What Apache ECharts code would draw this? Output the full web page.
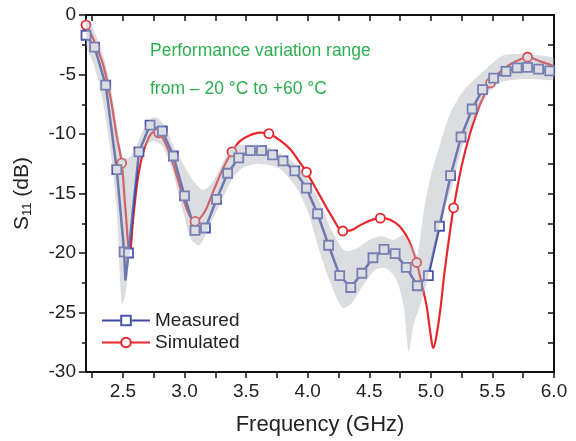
<!DOCTYPE html>
<html>
<head>
<meta charset="utf-8">
<script src="https://cdn.jsdelivr.net/npm/echarts@6/dist/echarts.min.js"></script>
<style>
  html, body { margin: 0; padding: 0; background: #fff; }
  #chart { width: 576px; height: 441px; }
</style>
</head>
<body>
<div id="chart"></div>
<script>
// measured S11 (squares)
const measF  = [2.20, 2.27, 2.36, 2.45, 2.51, 2.52, 2.545, 2.63, 2.72, 2.82, 2.91, 3.00, 3.085, 3.17, 3.26, 3.35, 3.44, 3.535, 3.625, 3.715, 3.80, 3.895, 3.99, 4.08, 4.17, 4.26, 4.35, 4.44, 4.53, 4.62, 4.71, 4.80, 4.89, 4.98, 5.07, 5.16, 5.245, 5.335, 5.42, 5.51, 5.61, 5.70, 5.785, 5.875, 5.965];
const measDb = [-1.7, -2.7, -5.9, -13.0, -19.9, -22.3, -20.0, -11.5, -9.25, -9.75, -11.85, -15.2, -18.1, -17.9, -15.5, -13.3, -12.0, -11.4, -11.4, -11.75, -12.25, -13.1, -14.55, -16.7, -19.35, -21.9, -22.9, -21.7, -20.4, -19.7, -20.05, -21.2, -22.75, -21.9, -17.75, -13.5, -10.25, -7.9, -6.27, -5.3, -4.73, -4.45, -4.4, -4.55, -4.7];
// the dip tip has no marker
const measNoMark = [5];

// simulated S11 (smooth red curve), circles at simMark indices
const simF  = [2.20, 2.25, 2.30, 2.35, 2.40, 2.45, 2.49, 2.52, 2.555, 2.585, 2.62, 2.66, 2.71, 2.75, 2.79, 2.85, 2.91, 2.97, 3.03, 3.085, 3.16, 3.23, 3.31, 3.385, 3.45, 3.53, 3.61, 3.685, 3.77, 3.86, 3.93, 3.99, 4.10, 4.20, 4.285, 4.35, 4.42, 4.50, 4.59, 4.67, 4.75, 4.82, 4.885, 4.93, 4.965, 5.00, 5.02, 5.045, 5.08, 5.11, 5.15, 5.185, 5.25, 5.32, 5.40, 5.485, 5.55, 5.62, 5.70, 5.785, 5.89, 6.00];
const simDb = [-0.85, -1.8, -3.0, -4.6, -7.0, -10.2, -12.45, -16.3, -20.0, -16.9, -13.8, -11.7, -10.3, -9.85, -9.9, -10.9, -12.6, -14.7, -16.6, -17.35, -16.6, -14.9, -12.95, -11.5, -10.6, -10.1, -9.88, -9.97, -10.5, -11.3, -12.3, -13.2, -15.2, -17.0, -18.15, -18.1, -17.7, -17.3, -17.07, -17.2, -17.8, -18.9, -20.8, -22.8, -24.4, -27.0, -28.0, -27.0, -24.5, -21.7, -18.6, -16.2, -12.7, -9.9, -7.5, -5.7, -4.9, -4.3, -3.85, -3.54, -3.9, -4.3];
const simMark = [0, 6, 14, 19, 23, 27, 31, 34, 38, 42, 51, 55, 59];

// temperature variation band (-20 °C to +60 °C)
const bandUpF  = [2.20, 2.25, 2.30, 2.35, 2.40, 2.45, 2.50, 2.55, 2.60, 2.65, 2.70, 2.75, 2.80, 2.85, 2.90, 2.95, 3.00, 3.05, 3.10, 3.15, 3.20, 3.26, 3.32, 3.40, 3.50, 3.60, 3.70, 3.80, 3.90, 4.00, 4.10, 4.20, 4.30, 4.40, 4.50, 4.60, 4.70, 4.78, 4.85, 4.89, 4.945, 5.00, 5.08, 5.16, 5.27, 5.41, 5.585, 5.775, 5.97, 6.00];
const bandUpDb = [-0.3, -1.0, -2.2, -3.8, -6.0, -9.3, -12.0, -12.0, -11.2, -10.0, -9.0, -8.6, -8.8, -9.6, -10.8, -11.8, -12.7, -13.6, -14.3, -14.7, -14.4, -13.5, -12.2, -11.0, -10.9, -10.9, -11.2, -11.8, -12.5, -13.8, -15.8, -18.2, -19.8, -19.6, -18.9, -18.6, -18.9, -18.5, -19.5, -20.2, -16.3, -13.5, -10.7, -8.2, -6.3, -4.9, -3.4, -3.3, -3.5, -3.6];
const bandLoF  = [2.20, 2.25, 2.30, 2.35, 2.40, 2.45, 2.49, 2.52, 2.55, 2.58, 2.62, 2.68, 2.75, 2.82, 2.90, 2.95, 3.00, 3.05, 3.12, 3.20, 3.31, 3.40, 3.48, 3.61, 3.77, 3.90, 4.00, 4.10, 4.18, 4.28, 4.35, 4.45, 4.55, 4.64, 4.72, 4.78, 4.82, 4.86, 4.91, 4.97, 5.08, 5.18, 5.25, 5.33, 5.43, 5.56, 5.72, 5.88, 6.00];
const bandLoDb = [-2.5, -3.8, -5.5, -8.0, -11.5, -16.5, -24.3, -23.5, -20.5, -16.5, -12.8, -11.0, -10.6, -11.0, -13.0, -15.0, -17.0, -18.8, -19.35, -17.8, -15.4, -13.6, -12.8, -12.5, -12.9, -14.4, -16.5, -20.0, -22.4, -24.6, -24.3, -22.7, -21.4, -21.3, -22.2, -24.5, -28.3, -26.0, -24.5, -22.4, -17.4, -14.1, -11.3, -9.3, -7.1, -5.7, -5.4, -5.4, -5.4];

const xLabels = [2.5, 3.0, 3.5, 4.0, 4.5, 5.0, 5.5, 6.0];
const xTicks = [2.25, 2.5, 2.75, 3.0, 3.25, 3.5, 3.75, 4.0, 4.25, 4.5, 4.75, 5.0, 5.25, 5.5, 5.75, 6.0];

const FONT = 'Liberation Sans, Arial, sans-serif';
const chart = echarts.init(document.getElementById('chart'));

const measData = measF.map((f, i) => measNoMark.indexOf(i) >= 0
  ? { value: [f, measDb[i]], symbol: 'none' } : [f, measDb[i]]);
const simData = simF.map((f, i) => simMark.indexOf(i) >= 0
  ? [f, simDb[i]] : { value: [f, simDb[i]], symbol: 'none' });

const axisLine = { show: true, onZero: false, lineStyle: { color: '#111', width: 2 } };

chart.setOption({
  animation: false,
  grid: { left: 86, right: 22, top: 15, bottom: 67 },
  legend: {
    data: ['Measured', 'Simulated'],
    orient: 'vertical',
    left: 96, top: 306,
    itemWidth: 48, itemHeight: 12, itemGap: 3,
    textStyle: { fontFamily: FONT, fontSize: 19, color: '#222' }
  },
  graphic: [
    { type: 'text', left: 150, top: 42, style: { text: 'Performance variation range', fontFamily: FONT, fontSize: 17.5, fill: '#2bb04f' } },
    { type: 'text', left: 150, top: 80, style: { text: 'from \u2013 20 \u00B0C to +60 \u00B0C', fontFamily: FONT, fontSize: 17.5, fill: '#2bb04f' } }
  ],
  xAxis: [{
    type: 'value', min: 2.2, max: 6.0, position: 'bottom',
    name: 'Frequency (GHz)', nameLocation: 'middle', nameGap: 42,
    nameTextStyle: { fontFamily: FONT, fontSize: 22, color: '#222' },
    axisLine: axisLine,
    axisTick: { show: true, inside: false, length: 6, customValues: xTicks, lineStyle: { color: '#111', width: 1.5 } },
    axisLabel: { customValues: xLabels, margin: 10, fontFamily: FONT, fontSize: 19, color: '#222', formatter: v => v.toFixed(1) },
    splitLine: { show: false }
  }, {
    type: 'value', min: 2.2, max: 6.0, position: 'top',
    axisLine: axisLine,
    axisTick: { show: true, inside: true, length: 6, customValues: xTicks, lineStyle: { color: '#111', width: 1.5 } },
    axisLabel: { show: false },
    splitLine: { show: false }
  }],
  yAxis: [{
    type: 'value', min: -30, max: 0, interval: 5, position: 'left',
    name: '{a|S}{b|11}{a| (dB)}', nameLocation: 'middle', nameGap: 52, nameRotate: 90,
    nameTextStyle: {
      rich: {
        a: { fontFamily: FONT, fontSize: 21, color: '#222' },
        b: { fontFamily: FONT, fontSize: 13, color: '#222', padding: [10, 0, 0, 0] }
      }
    },
    axisLine: axisLine,
    axisTick: { show: true, inside: false, length: 7, lineStyle: { color: '#111', width: 1.5 } },
    minorTick: { show: true, splitNumber: 2, length: 4, lineStyle: { color: '#111', width: 1.5 } },
    axisLabel: { margin: 10, fontFamily: FONT, fontSize: 19, color: '#222' },
    splitLine: { show: false }
  }, {
    type: 'value', min: -30, max: 0, interval: 2.5, position: 'right',
    axisLine: axisLine,
    axisTick: { show: true, inside: true, length: 6, lineStyle: { color: '#111', width: 1.5 } },
    axisLabel: { show: false },
    splitLine: { show: false }
  }],
  series: [{
    name: 'Simulated', type: 'line', z: 2,
    data: simData, smooth: 0.35,
    symbol: 'circle', symbolSize: 9, showAllSymbol: true,
    lineStyle: { color: '#e8262b', width: 2.2 },
    itemStyle: { color: '#fff', borderColor: '#e8262b', borderWidth: 1.8 }
  }, {
    name: 'Measured', type: 'line', z: 2,
    data: measData,
    symbol: 'rect', symbolSize: 9, showAllSymbol: true,
    lineStyle: { color: '#3a48a6', width: 2.5 },
    itemStyle: { color: '#fff', borderColor: '#4a56ae', borderWidth: 1.8 }
  }, {
    name: 'band', type: 'custom', z: 3, clip: true,
    data: [[2.2, 0]],
    renderItem: function (params, api) {
      const pts = [];
      for (let i = 0; i < bandUpF.length; i++) pts.push(api.coord([bandUpF[i], bandUpDb[i]]));
      for (let i = bandLoF.length - 1; i >= 0; i--) pts.push(api.coord([bandLoF[i], bandLoDb[i]]));
      return {
        type: 'polygon',
        shape: { points: pts, smooth: 0.25 },
        style: { fill: 'rgba(176,179,186,0.45)' }
      };
    }
  }]
});
</script>
</body>
</html>
